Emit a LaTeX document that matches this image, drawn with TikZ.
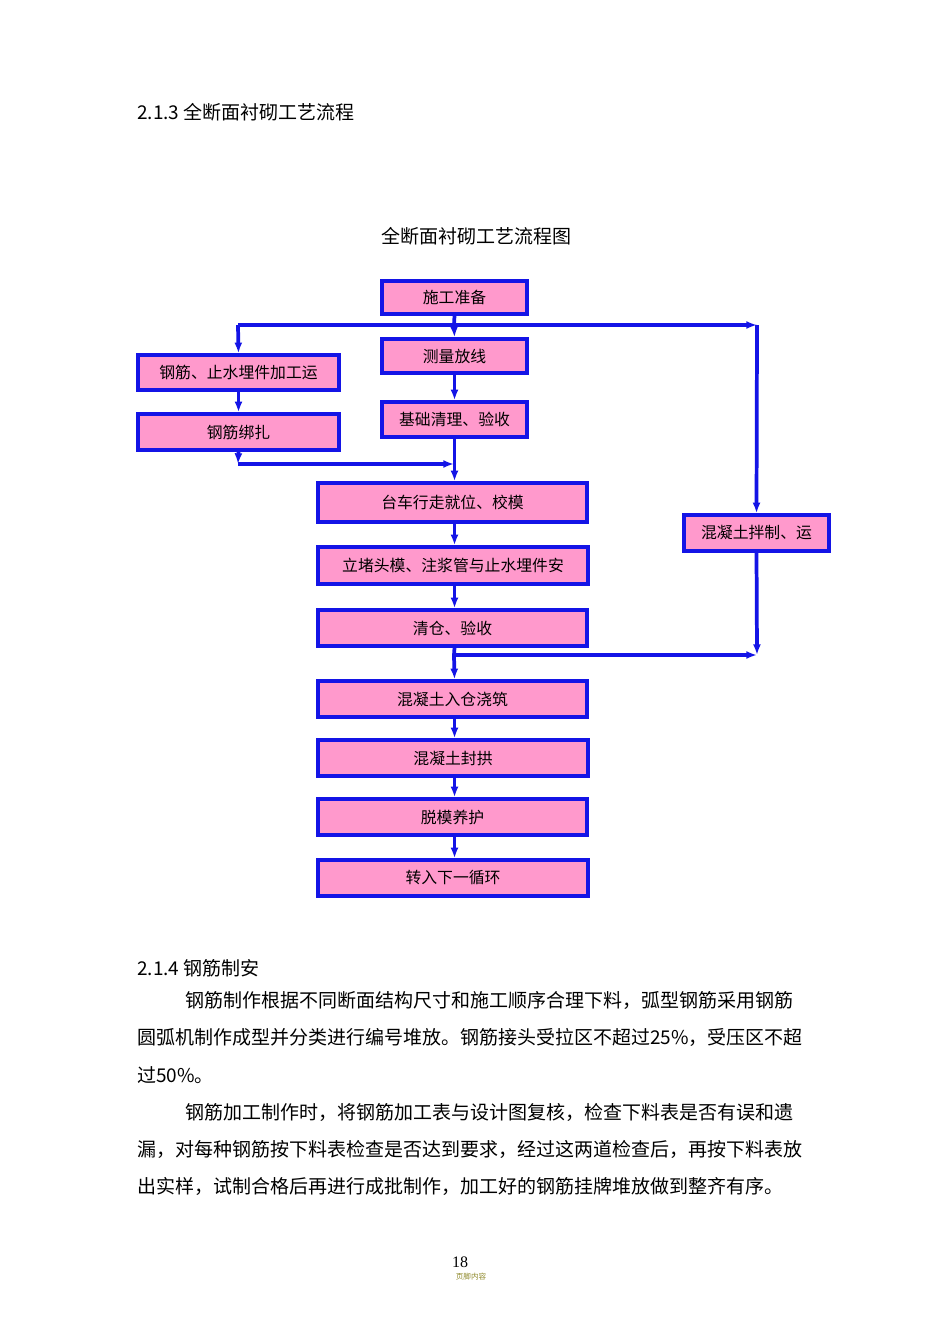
\documentclass[tikz,border=0pt]{standalone}
\usepackage{fontspec}
\setmainfont{Liberation Serif}
\newfontfamily\cjk{Noto Sans CJK SC}[Scale=0.95]
\usetikzlibrary{arrows.meta}
\definecolor{bl}{RGB}{20,20,230}
\definecolor{pk}{RGB}{255,153,204}
\begin{document}
\begin{tikzpicture}[x=0.75pt,y=-0.75pt,
  bx/.style={draw=bl,fill=pk,line width=2.6pt,inner sep=0pt,font=\cjk\fontsize{12.5}{14}\selectfont},
  ar/.style={draw=bl,line width=2.8pt,-{Latex[length=8pt,width=6pt]}},
  ln/.style={draw=bl,line width=2.8pt},
  tx/.style={anchor=west,inner sep=0pt,font=\cjk\fontsize{15}{17}\selectfont}]
\useasboundingbox (0,0) rectangle (950,1344);
\def\bxx#1#2#3#4#5#6{\node[bx,minimum width={(#3-#2)*0.75pt},minimum height={(#5-#4)*0.75pt}] (#1) at ({(#2+#3)/2},{(#4+#5)/2}) {#6};}
\bxx{a}{382}{527}{281}{314}{施工准备}
\bxx{b}{382}{527}{339}{373}{测量放线}
\bxx{c}{382}{527}{402}{437}{基础清理、验收}
\bxx{d}{138}{339}{355}{390}{钢筋、止水埋件加工运}
\bxx{e}{138}{339}{414}{450}{钢筋绑扎}
\bxx{f}{318}{587}{483}{522}{台车行走就位、校模}
\bxx{g}{318}{588}{547}{584}{立堵头模、注浆管与止水埋件安}
\bxx{h}{318}{587}{610}{646}{清仓、验收}
\bxx{m}{684}{829}{515}{551}{混凝土拌制、运}
\bxx{i}{318}{587}{681}{717}{混凝土入仓浇筑}
\bxx{j}{318}{588}{740}{776}{混凝土封拱}
\bxx{k}{318}{587}{799}{835}{脱模养护}
\bxx{l}{318}{588}{860}{896}{转入下一循环}
\coordinate (t) at (454,325);
\coordinate (tl) at (238,325);
\coordinate (tr) at (757,325);
\coordinate (jl) at (238,464);
\coordinate (jc) at (454,464);
\coordinate (bc) at (454,655);
\coordinate (br) at (757,655);
\draw[ln] (a.south) -- (t);
\draw[ar] (t) -- (b.north);
\draw[ln] (tl) -- (t);
\draw[ar] (t) -- (tr);
\draw[ar] (tl) -- (d.north);
\draw[ar] (tr) -- (m.north);
\draw[ar] (b.south) -- (c.north);
\draw[ar] (d.south) -- (e.north);
\draw[ar] (e.south) -- (jl);
\draw[ar] (jl) -- (jc);
\draw[ar] (c.south) -- (c.south |- f.north);
\draw[ar] (f.south -| c.south) -- (c.south |- g.north);
\draw[ar] (g.south -| c.south) -- (c.south |- h.north);
\draw[ln] (h.south -| c.south) -- (bc);
\draw[ar] (bc) -- (c.south |- i.north);
\draw[ar] (bc) -- (br);
\draw[ar] (m.south) -- (br);
\draw[ar] (i.south -| c.south) -- (c.south |- j.north);
\draw[ar] (j.south -| c.south) -- (c.south |- k.north);
\draw[ar] (k.south -| c.south) -- (c.south |- l.north);
\node[tx] (h1) at (137,112) {2.1.3 全断面衬砌工艺流程};
\node[tx,anchor=center] (tt) at (476,236) {全断面衬砌工艺流程图};
\node[tx] (h2) at (137,968) {2.1.4 钢筋制安};
\node[tx] (p1) at (185,1000) {钢筋制作根据不同断面结构尺寸和施工顺序合理下料，弧型钢筋采用钢筋};
\node[tx] (p2) at (137,1037) {圆弧机制作成型并分类进行编号堆放。钢筋接头受拉区不超过25\%，受压区不超};
\node[tx] (p3) at (137,1075) {过50\%。};
\node[tx] (p4) at (185,1112) {钢筋加工制作时，将钢筋加工表与设计图复核，检查下料表是否有误和遗};
\node[tx] (p5) at (137,1149) {漏，对每种钢筋按下料表检查是否达到要求，经过这两道检查后，再按下料表放};
\node[tx] (p6) at (137,1186) {出实样，试制合格后再进行成批制作，加工好的钢筋挂牌堆放做到整齐有序。};
\node[inner sep=0pt,font=\fontsize{12}{14}\selectfont] (pg) at (460,1262) {18};
\node[inner sep=0pt,text=olive!70!gray,font=\cjk\fontsize{6}{7}\selectfont] (ft) at (471,1277) {页脚内容};
\end{tikzpicture}
\end{document}
